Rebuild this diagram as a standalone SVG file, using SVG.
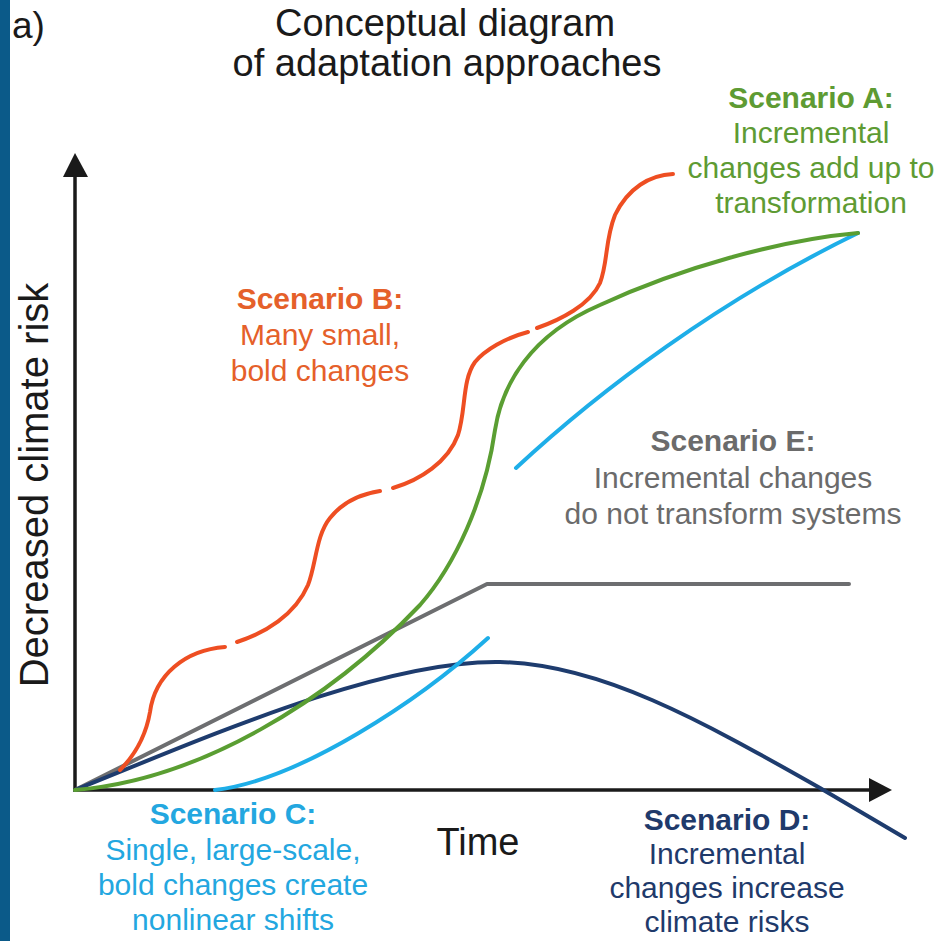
<svg xmlns="http://www.w3.org/2000/svg" width="945" height="941" viewBox="0 0 945 941">
<style>
text{font-family:"Liberation Sans",Arial,sans-serif;}
.t{font-size:38px;fill:#1a1a1a;text-anchor:middle;}
.lab{font-size:30px;text-anchor:middle;}
.b{font-weight:bold;}
.cv{fill:none;stroke-width:4;stroke-linecap:round;stroke-linejoin:round;}
.ax{fill:none;stroke:#1a1a1a;stroke-width:3.5;}
.green{fill:#5e9b33;}
.orange{fill:#e5602a;}
.gray{fill:#6b6b6b;}
.lblue{fill:#23a7e0;}
.navy{fill:#1f3a6b;}
</style>
<rect x="0" y="0" width="945" height="941" fill="#ffffff"/>
<rect id="sidebar" x="0" y="0" width="10" height="941" fill="#0b5a89"/>
<g id="title">
<text x="12" y="38" style="font-size:37px;fill:#1a1a1a;">a)</text>
<text class="t" x="445" y="36">Conceptual diagram</text>
<text class="t" x="447" y="76">of adaptation approaches</text>
</g>
<g id="axes">
<line class="ax" x1="75" y1="790" x2="75" y2="172"/>
<polygon points="75,153 63,177 88,177" fill="#1a1a1a"/>
<line class="ax" x1="73" y1="790" x2="872" y2="790"/>
<polygon points="892,790 869,778 869,802" fill="#1a1a1a"/>
<text x="48" y="485" transform="rotate(-90 48 485)" style="font-size:40px;fill:#1a1a1a;text-anchor:middle;">Decreased climate risk</text>
<text x="478" y="855" style="font-size:38px;fill:#1a1a1a;text-anchor:middle;">Time</text>
</g>
<g id="connectors">
<path id="curve-E" class="cv" stroke="#6d6e70" d="M75,790 L487,584 L849,584"/>
<path id="curve-D" class="cv" stroke="#1e3c6e" stroke-width="4.5" d="M75,790 C200,740 380,660 500,662 C600,664 700,720 820,788 L905,838"/>
<path id="curve-C1" class="cv" stroke="#1eaee8" d="M215,790 C300,780 420,700 488,638"/>
<path id="curve-C2" class="cv" stroke="#1eaee8" d="M516,468 C600,390 720,300 858,233"/>
<path id="curve-A" class="cv" stroke="#5a9e32" d="M75,790 C200,780 330,700 420,605 C455,565 485,500 495,430 C502,385 530,335 600,305 C680,268 780,240 858,233"/>
<g id="curve-B" class="cv" stroke="#ee4e22">
<path d="M120,770 C135,755 146,735 150,712 C155,675 185,650 225,647"/>
<path d="M237,642 C265,633 295,615 308,585 C316,565 316,535 330,518 C342,503 360,494 380,491"/>
<path d="M393,488 C420,480 448,462 458,435 C466,410 462,380 475,362 C485,350 505,338 528,332"/>
<path d="M537,328 C560,320 590,305 600,283 C608,262 605,240 615,215 C628,188 650,175 673,174"/>
</g>
</g>
<g id="scenario-A">
<text class="lab b green" x="811" y="108">Scenario A:</text>
<text class="lab green" x="811" y="143">Incremental</text>
<text class="lab green" x="811" y="178">changes add up to</text>
<text class="lab green" x="811" y="213">transformation</text>
</g>
<g id="scenario-B">
<text class="lab b orange" x="320" y="309">Scenario B:</text>
<text class="lab orange" x="320" y="345">Many small,</text>
<text class="lab orange" x="320" y="381">bold changes</text>
</g>
<g id="scenario-E">
<text class="lab b gray" x="733" y="451">Scenario E:</text>
<text class="lab gray" x="733" y="488">Incremental changes</text>
<text class="lab gray" x="733" y="524">do not transform systems</text>
</g>
<g id="scenario-C">
<text class="lab b lblue" x="233" y="824">Scenario C:</text>
<text class="lab lblue" x="233" y="860">Single, large-scale,</text>
<text class="lab lblue" x="233" y="895">bold changes create</text>
<text class="lab lblue" x="233" y="930">nonlinear shifts</text>
</g>
<g id="scenario-D">
<text class="lab b navy" x="727" y="830">Scenario D:</text>
<text class="lab navy" x="727" y="864">Incremental</text>
<text class="lab navy" x="727" y="898">changes increase</text>
<text class="lab navy" x="727" y="932">climate risks</text>
</g>
</svg>
